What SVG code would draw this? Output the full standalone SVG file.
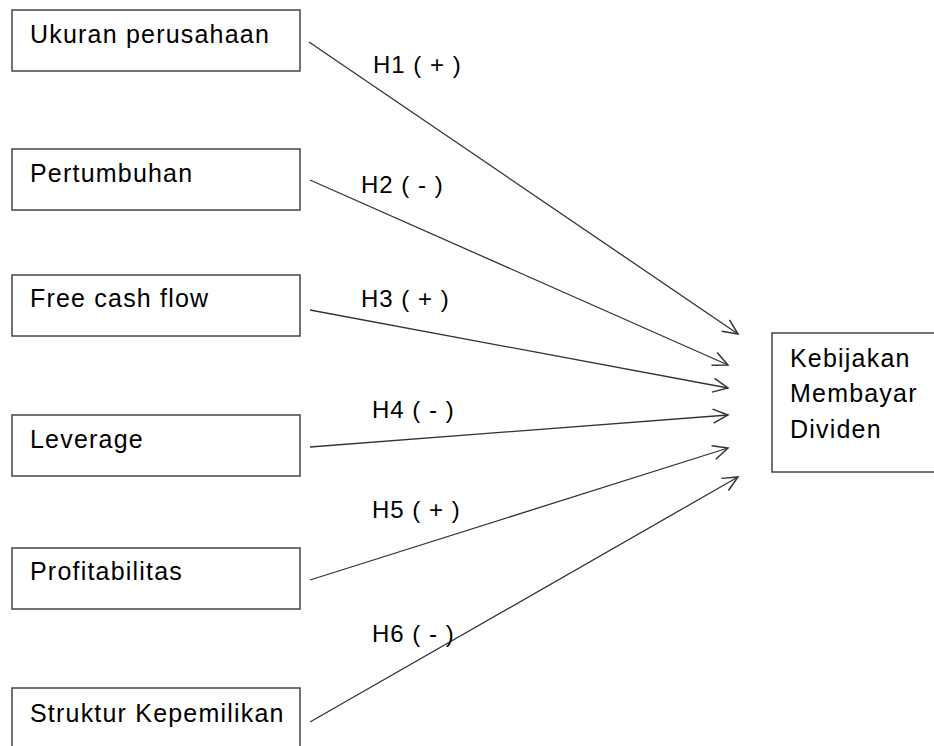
<svg xmlns="http://www.w3.org/2000/svg" width="934" height="746" viewBox="0 0 934 746">
<style>
.box{fill:#fff;stroke:#444;stroke-width:1.5}
.t{font-family:"Liberation Sans",Arial,sans-serif;font-size:25px;letter-spacing:1.2px;fill:#000}
.l{font-family:"Liberation Sans",Arial,sans-serif;font-size:24px;letter-spacing:1px;fill:#000}
.c{stroke:#333;stroke-width:1.3;fill:none;marker-end:url(#ah)}
</style>
<defs>
<marker id="ah" viewBox="0 0 20 20" refX="18" refY="10" markerWidth="20" markerHeight="20" markerUnits="userSpaceOnUse" orient="auto">
<polyline points="3,3 18,10 3,17" fill="none" stroke="#333" stroke-width="1.5"/>
</marker>
</defs>
<rect width="934" height="746" fill="#fff"/>
<g id="n1"><rect class="box" x="12" y="10" width="288" height="61"/><text class="t" x="30" y="43">Ukuran perusahaan</text></g>
<g id="n2"><rect class="box" x="12" y="149" width="288" height="61"/><text class="t" x="30" y="182">Pertumbuhan</text></g>
<g id="n3"><rect class="box" x="12" y="275" width="288" height="61"/><text class="t" x="30" y="307">Free cash flow</text></g>
<g id="n4"><rect class="box" x="12" y="415" width="288" height="61"/><text class="t" x="30" y="448">Leverage</text></g>
<g id="n5"><rect class="box" x="12" y="548" width="288" height="61"/><text class="t" x="30" y="580">Profitabilitas</text></g>
<g id="n6"><rect class="box" x="12" y="688" width="288" height="70"/><text class="t" x="30" y="722">Struktur Kepemilikan</text></g>
<g id="target"><rect class="box" x="772" y="333" width="180" height="139"/><text class="t" x="790" y="367">Kebijakan</text><text class="t" x="790" y="402">Membayar</text><text class="t" x="790" y="438">Dividen</text></g>
<g id="connectors">
<line class="c" x1="309" y1="42" x2="738" y2="334"/>
<line class="c" x1="310" y1="180" x2="728" y2="365"/>
<line class="c" x1="310" y1="310" x2="728" y2="388"/>
<line class="c" x1="310" y1="447" x2="728" y2="415"/>
<line class="c" x1="310" y1="580" x2="728" y2="448"/>
<line class="c" x1="310" y1="722" x2="738" y2="477"/>
<text class="l" x="373" y="73">H1 ( + )</text>
<text class="l" x="361" y="193">H2 ( - )</text>
<text class="l" x="361" y="307">H3 ( + )</text>
<text class="l" x="372" y="418">H4 ( - )</text>
<text class="l" x="372" y="518">H5 ( + )</text>
<text class="l" x="372" y="642">H6 ( - )</text>
</g>
</svg>
